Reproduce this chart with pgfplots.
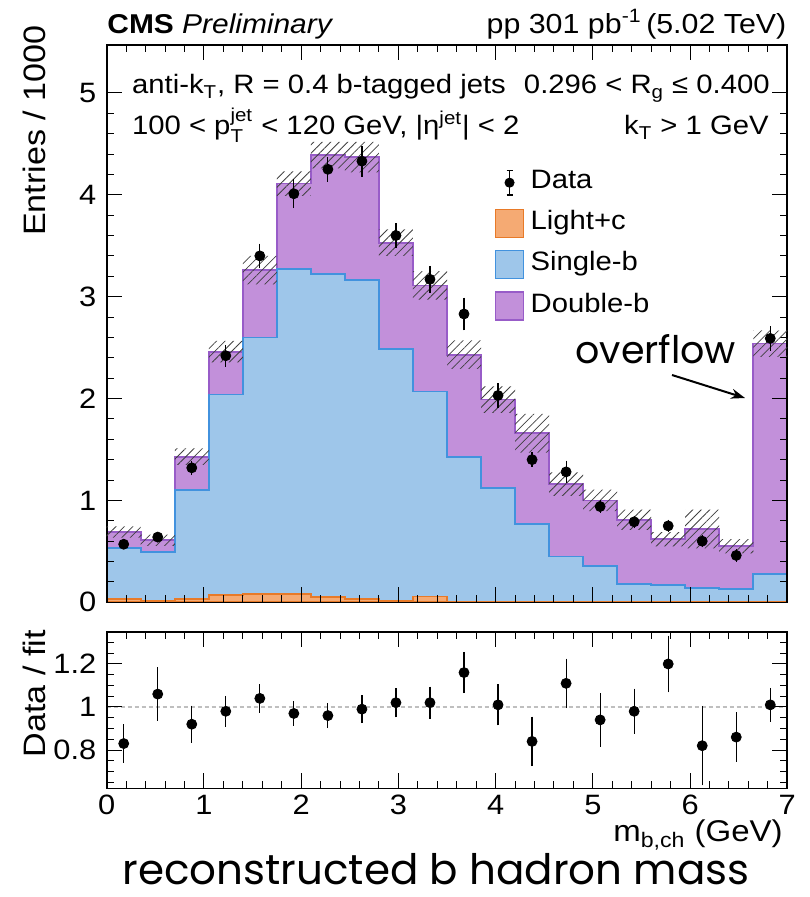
\documentclass[border=0pt]{standalone}
\usepackage{fontspec}
\setmainfont{Liberation Sans}[FakeStretch=1.1]
\newfontfamily\poppins{Poppins}
\usepackage{amsmath}
\usepackage{pgfplots}
\pgfplotsset{compat=1.18}
\usepackage{pgfplotstable}
\usetikzlibrary{patterns.meta,arrows.meta}

\definecolor{lcfill}{RGB}{245,170,115}
\definecolor{lcline}{RGB}{232,122,40}
\definecolor{sbfill}{RGB}{158,198,234}
\definecolor{sbline}{RGB}{66,146,222}
\definecolor{dbfill}{RGB}{194,144,218}
\definecolor{dbline}{RGB}{152,92,200}

% stacked components per bin (left edge), fit uncertainty
\pgfplotstableread{
x    lc    sb    db   unc
0.00 0.030 0.500 0.16 0.055
0.35 0.015 0.475 0.12 0.055
0.70 0.030 1.070 0.33 0.080
1.05 0.070 1.970 0.42 0.105
1.40 0.080 2.520 0.66 0.140
1.75 0.085 3.185 0.84 0.120
2.10 0.050 3.170 1.17 0.130
2.45 0.035 3.125 1.21 0.150
2.80 0.016 2.474 1.04 0.130
3.15 0.056 2.014 1.04 0.140
3.50 0.008 1.422 1.00 0.140
3.85 0.006 1.114 0.87 0.130
4.20 0.005 0.765 0.89 0.190
4.55 0.005 0.445 0.71 0.115
4.90 0.005 0.355 0.64 0.105
5.25 0.005 0.175 0.63 0.100
5.60 0.005 0.165 0.45 0.070
5.95 0.005 0.135 0.58 0.190
6.30 0.005 0.125 0.42 0.070
6.65 0.005 0.275 2.26 0.130
7.00 0.005 0.275 2.26 0.130
}\mc

% data (bin centre), data/fit ratio
\pgfplotstableread{
x     y    ey    r    er
0.175 0.57 0.020 0.83 0.075
0.525 0.64 0.020 1.06 0.110
0.875 1.32 0.040 0.92 0.072
1.225 2.42 0.075 0.98 0.057
1.575 3.40 0.090 1.04 0.052
1.925 4.01 0.110 0.97 0.043
2.275 4.25 0.090 0.96 0.043
2.625 4.33 0.120 0.99 0.050
2.975 3.60 0.090 1.02 0.053
3.325 3.17 0.100 1.02 0.060
3.675 2.83 0.130 1.16 0.081
4.025 2.03 0.090 1.01 0.081
4.375 1.40 0.040 0.84 0.100
4.725 1.28 0.080 1.11 0.100
5.075 0.94 0.030 0.94 0.110
5.425 0.79 0.030 0.98 0.090
5.775 0.75 0.030 1.20 0.117
6.125 0.60 0.030 0.82 0.170
6.475 0.46 0.030 0.86 0.100
6.825 2.59 0.090 1.01 0.064
}\dat

\pgfplotsset{
  cmsax/.style={
    scale only axis, width=340.3pt, xmin=0, xmax=7,
    axis on top,
    axis line style={line width=0.8pt},
    tick style={black, line width=0.5pt},
    major tick length=7.5pt, minor tick length=3.75pt,
    tick align=inside, xtick pos=both, ytick pos=both,
    xtick={0,...,7}, minor x tick num=4,
    /pgf/number format/assume math mode=true,
    tick label style={font=\fontsize{14}{16}\selectfont},
    yticklabel style={inner sep=0pt, xshift=-5pt},
    xticklabel style={inner sep=0pt, yshift=-3.3pt},
  },
  toppos/.style={at={(53.35pt,-301.15pt)}, anchor=south west,
    scale only axis, width=340.3pt, height=278.65pt,
    xmin=0, xmax=7, ymin=0, ymax=5.47},
  dataerr/.style={only marks, mark=*, mark size=2.5pt, black,
    error bars/.cd, y dir=both, y explicit,
    error bar style={line width=0.6pt},
    error mark options={mark size=1.6pt, line width=0.6pt, black}},
}

\begin{document}
\begin{tikzpicture}
% stacked templates, frame and legend
\begin{axis}[cmsax, toppos, name=top, ytick={0,...,5}, minor y tick num=4,
  xticklabels={},
  legend style={at={(axis cs:3.99,4.26)}, anchor=north west, draw=none, fill=none,
    inner sep=0pt, font=\fontsize{13.3}{15}\selectfont,
    nodes={inner sep=0pt, text height=10pt, text depth=4pt},
    row sep=6pt, /tikz/column sep=3.3pt},
  legend cell align=left]
  \addplot[const plot, fill=dbfill, draw=dbline, line width=0.9pt, forget plot]
    table[x=x, y expr=\thisrow{lc}+\thisrow{sb}+\thisrow{db}] {\mc} \closedcycle;
  \addplot[const plot, fill=sbfill, draw=sbline, line width=0.9pt, forget plot]
    table[x=x, y expr=\thisrow{lc}+\thisrow{sb}] {\mc} \closedcycle;
  \addplot[const plot, fill=lcfill, draw=lcline, line width=0.9pt, forget plot]
    table[x=x, y=lc] {\mc} \closedcycle;

  \addlegendimage{legend image code/.code={
    \draw[black, line width=0.6pt] (6.9pt,-6.2pt) -- (6.9pt,6.2pt);
    \draw[black, line width=0.6pt] (5.4pt,6.2pt) -- (8.4pt,6.2pt);
    \draw[black, line width=0.6pt] (5.4pt,-6.2pt) -- (8.4pt,-6.2pt);
    \fill[black] (6.9pt,0pt) circle (2.3pt);}}
  \addlegendentry{Data}
  \addlegendimage{legend image code/.code={
    \draw[fill=lcfill, draw=lcline, line width=0.7pt] (0pt,-7pt) rectangle (13.8pt,7pt);}}
  \addlegendentry{Light+c}
  \addlegendimage{legend image code/.code={
    \draw[fill=sbfill, draw=sbline, line width=0.7pt] (0pt,-7pt) rectangle (13.8pt,7pt);}}
  \addlegendentry{Single-b}
  \addlegendimage{legend image code/.code={
    \draw[fill=dbfill, draw=dbline, line width=0.7pt] (0pt,-7pt) rectangle (13.8pt,7pt);}}
  \addlegendentry{Double-b}
\end{axis}

% fit uncertainty band (hatched), over the templates
\begin{axis}[toppos, hide axis, ybar stacked, bar width=0.35,
  skip coords between index={20}{21}]
  \addplot[draw=none, fill=none, forget plot]
    table[x expr=\thisrow{x}+0.175,
          y expr=\thisrow{lc}+\thisrow{sb}+\thisrow{db}-\thisrow{unc}] {\mc};
  \addplot[draw=none, pattern={Lines[angle=45, distance=3pt, line width=0.4pt]},
    pattern color=black!75, forget plot]
    table[x expr=\thisrow{x}+0.175, y expr=2*\thisrow{unc}] {\mc};
\end{axis}

% data
\begin{axis}[toppos, hide axis]
  \addplot[dataerr] table[x=x, y=y, y error=ey] {\dat};
\end{axis}

\begin{axis}[cmsax, name=bot, at={(53.35pt,-394.15pt)}, anchor=south west,
  height=78.3pt, ymin=0.622, ymax=1.35, ytick={0.8,1,1.2},
  minor ytick={0.65,0.7,0.75,0.85,0.9,0.95,1.05,1.1,1.15,1.25,1.3}]
  \addplot[black!25, dash pattern=on 2pt off 1.5pt, line width=0.8pt]
    coordinates {(0,1) (7,1)};
  \addplot[dataerr] table[x=x, y=r, y error=er] {\dat};
\end{axis}

\begin{scope}[x=0.5pt, y=-0.5pt]
  \node[anchor=base west, inner sep=0pt, font=\fontsize{13.6}{16}\selectfont]
    at (107,33.3) {\textbf{CMS} \textit{Preliminary}};
  \node[anchor=base east, inner sep=0pt, font=\fontsize{13.8}{16}\selectfont]
    at (786.7,33.3) {pp 301 pb$^{\text{-1}}$\,(5.02 TeV)};
  \node[anchor=base west, inner sep=0pt, font=\fontsize{13.3}{15}\selectfont]
    at (131.7,94) {anti-k$_{\text{T}}$, R = 0.4 b-tagged jets};
  \node[anchor=base east, inner sep=0pt, font=\fontsize{13.3}{15}\selectfont]
    at (770,94) {0.296 < R$_{\text{g}}$ ≤ 0.400};
  \node[anchor=base west, inner sep=0pt, font=\fontsize{13.3}{15}\selectfont]
    at (131.7,135) {100 < p$^{\text{jet}}_{\text{T}}$ < 120 GeV, |η$^{\text{jet}}$| < 2};
  \node[anchor=base east, inner sep=0pt, font=\fontsize{13.3}{15}\selectfont]
    at (769,135) {k$_{\text{T}}$ > 1 GeV};
  \node[rotate=90, anchor=base east, inner sep=0pt, font=\fontsize{15.5}{17}\selectfont]
    at (45,25) {Entries / 1000};
  \node[rotate=90, anchor=base east, inner sep=0pt, font=\fontsize{15.5}{17}\selectfont]
    at (45,630) {Data / fit};
  \node[anchor=base east, inner sep=0pt, font=\fontsize{15}{17}\selectfont]
    at (783,841.7) {m$_{\text{b,ch}}$ (GeV)};
  \node[anchor=base west, inner sep=0pt, font=\poppins\fontsize{19}{22}\selectfont]
    at (575,364) {overflow};
  \draw[line width=1pt, -{Stealth[length=7pt, width=5pt]}] (672,375) -- (745,398);
  \node[anchor=base, inner sep=0pt, font=\poppins\fontsize{21}{24}\selectfont]
    at (436,884) {reconstructed b hadron mass};
\end{scope}

\pgfresetboundingbox
\path[use as bounding box] (0pt,0pt) rectangle (404.5pt,-448.5pt);
\end{tikzpicture}
\end{document}
